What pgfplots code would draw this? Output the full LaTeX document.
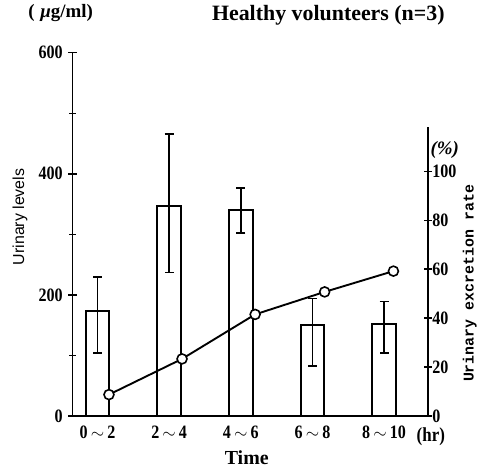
\documentclass[border=0pt]{standalone}
\usepackage{fontspec}
\setmainfont{Liberation Serif}
\setsansfont{Liberation Sans}
\setmonofont{Liberation Mono}
\newfontfamily\numfont[FakeStretch=0.85]{Liberation Serif}
\usepackage{pgfplots}
\pgfplotsset{compat=1.18}

\begin{document}
\begin{tikzpicture}
\pgfplotsset{
  base/.style={
    scale only axis, width=357pt, xmin=-0.347, xmax=4.61, clip=false,
    axis line style={-, line width=1.7pt},
    tick style={black, line width=1.5pt},
    tick align=inside,
    /pgf/number format/assume math mode=true,
    tick label style={font=\fontsize{19}{21}\numfont\bfseries},
  },
}
% bars: urinary levels (ug/ml), mean with error bars
\begin{axis}[base, name=main, height=365pt,
  ymin=0, ymax=600,
  axis x line=bottom, axis y line=left,
  ytick={0,200,400,600}, minor ytick={100,300,500},
  major tick length=9pt, minor tick length=7pt,
  yticklabel style={xshift=-2pt},
  xtick={0,1,2,3,4}, xtick style={draw=none},
  xticklabels={0\,$\sim$\,2, 2\,$\sim$\,4, 4\,$\sim$\,6, 6\,$\sim$\,8, 8\,$\sim$\,10},
  xticklabel style={yshift=-2pt},
  ylabel={\fontsize{16}{18}\sffamily Urinary levels},
  ylabel style={at={(axis description cs:-0.148,0.548)}, anchor=center},
  y axis line style={-}, x axis line style={-},
]
\addplot[ybar, bar width=24pt, fill=white, draw=black, line width=2pt]
coordinates {(0,173) (1,347) (2,340) (3,150) (4,151)};
\addplot[draw=none, mark=none, forget plot,
  error bars/.cd, y dir=both, y explicit,
  error bar style={black, line width=1.7pt},
  error mark options={black, rotate=90, line width=1.7pt, mark size=4.5pt}]
coordinates {
  (0,173) += (0,56)  -= (0,69)
  (1,347) += (0,119) -= (0,110)
  (2,340) += (0,37)  -= (0,38)
  (3,150) += (0,44)  -= (0,68)
  (4,151) += (0,38)  -= (0,47)
};
\end{axis}
% line: cumulative urinary excretion rate (%)
\begin{axis}[base, at={(main.south west)}, anchor=south west, height=290pt,
  ymin=0, ymax=118,
  axis x line=none, axis y line=right,
  y axis line style={-},
  ytick={0,20,40,60,80,100},
  major tick length=8pt,
  yticklabel style={xshift=-3pt},
  ylabel={\fontsize{15}{17}\ttfamily\bfseries Urinary excretion rate},
  ylabel style={at={(axis description cs:1.118,0.459)}, anchor=center},
]
\addplot[black, line width=1.9pt, mark=*, mark size=5pt,
  mark options={fill=white, line width=1.6pt}]
coordinates {
  (0.16,8.7) (1.18,23.3) (2.2,41.5) (3.17,50.7) (4.13,59.2)
};
\end{axis}
\node[font=\fontsize{19}{21}\selectfont\bfseries] at ([shift={(-12pt,405pt)}]main.south west) {(\;\textit{µ}g/ml)};
\node[font=\fontsize{22}{24}\selectfont\bfseries] at ([shift={(257pt,403pt)}]main.south west) {Healthy volunteers (n=3)};
\node[font=\fontsize{19}{21}\selectfont\bfseries\itshape] at ([shift={(374pt,267pt)}]main.south west) {(\%)};
\node[font=\fontsize{20}{22}\numfont\bfseries, inner sep=0pt] at ([shift={(360pt,-21pt)}]main.south west) {(hr)};
\node[font=\fontsize{20}{22}\selectfont\bfseries] at ([shift={(175pt,-42pt)}]main.south west) {Time};
\path ([shift={(-73pt,-54pt)}]main.south west) rectangle ++(480pt,472pt);
\end{tikzpicture}
\end{document}
